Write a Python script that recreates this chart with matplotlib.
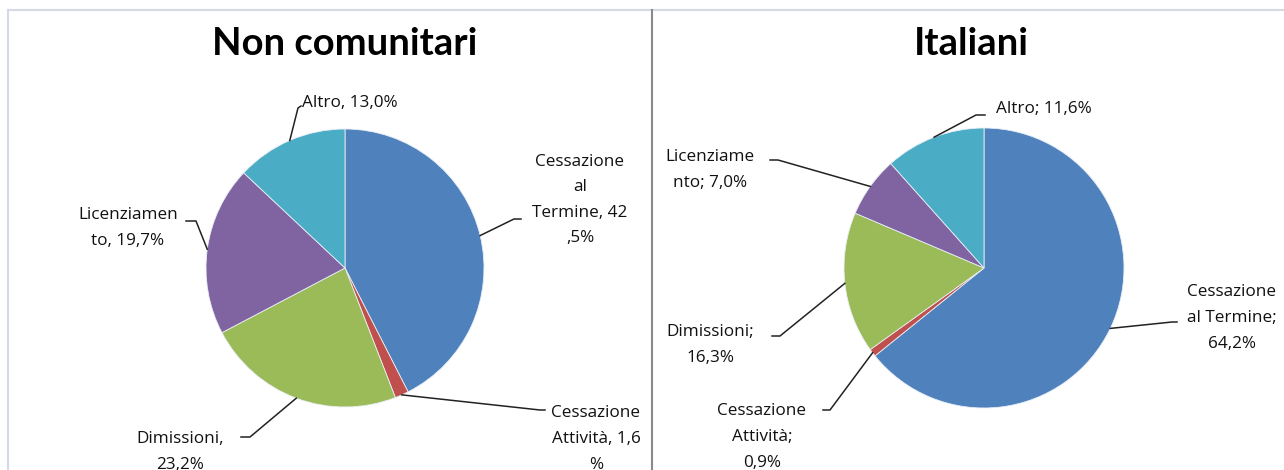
import numpy as np
import matplotlib.pyplot as plt
from matplotlib.lines import Line2D

plt.rcParams['font.family'] = ['Open Sans', 'DejaVu Sans']

W, H = 1284, 470

categories = ['Cessazione al Termine', 'Cessazione Attività', 'Dimissioni',
              'Licenziamento', 'Altro']
non_comunitari = [42.5, 1.6, 23.2, 19.7, 13.0]
italiani = [64.2, 0.9, 16.3, 7.0, 11.6]
colors = ['#4F81BD', '#C0504D', '#9BBB59', '#8064A2', '#4BACC6']

labels_nc = ['Cessazione\nal\nTermine, 42\n,5%', 'Cessazione\nAttività, 1,6\n%',
             'Dimissioni,\n23,2%', 'Licenziamen\nto, 19,7%', 'Altro, 13,0%']
labels_it = ['Cessazione\nal Termine;\n64,2%', 'Cessazione\nAttività;\n0,9%',
             'Dimissioni;\n16,3%', 'Licenziame\nnto; 7,0%', 'Altro; 11,6%']

fig = plt.figure(figsize=(W / 100, H / 100), dpi=100)
ax = fig.add_axes([0, 0, 1, 1])


def draw_pie(values, labels, cx, cy, r, title, tx, layout):
    ax.pie(values, colors=colors, startangle=90, counterclock=False,
           center=(cx, H - cy), radius=r, frame=True,
           wedgeprops=dict(linewidth=0.6, edgecolor='#E8EEF5'))
    ax.text(tx, H - 44, title, fontsize=27.5, fontweight='bold',
            ha='center', va='center', family=['Lato', 'DejaVu Sans'])
    cum = np.cumsum([0] + list(values)) / sum(values)
    for i, (lab, lay) in enumerate(zip(labels, layout)):
        mid = 90 - 360 * (cum[i] + cum[i + 1]) / 2
        a = np.deg2rad(mid)
        px, py = cx + r * np.cos(a), cy - r * np.sin(a)
        (bx, by), (ex, ey), (lx, ly) = lay
        ax.add_line(Line2D([px, bx, ex], [H - py, H - by, H - ey],
                           color='#222222', lw=1.1))
        ax.text(lx, H - ly, lab, fontsize=12.3, ha='center', va='center',
                linespacing=1.8, color='#111111')


# (elbow, end of leader, label centre) in pixels from top-left
layout_nc = [
    ((514, 219), (521, 219), (580, 200)),
    ((540, 410), (545, 410), (596, 439)),
    ((250, 437), (241, 437), (180, 452)),
    ((196, 221), (186, 221), (128, 228)),
    ((298, 108), (301, 106), (350, 103)),
]
layout_it = [
    ((1172, 322), (1177, 322), (1232, 318)),
    ((830, 410), (823, 410), (762, 437)),
    ((780, 336), (772, 336), (710, 345)),
    ((778, 160), (770, 160), (710, 170)),
    ((976, 115), (985, 115), (1044, 109)),
]

draw_pie(non_comunitari, labels_nc, 345, 268, 139, 'Non comunitari', 345, layout_nc)
draw_pie(italiani, labels_it, 984, 268, 140, 'Italiani', 971, layout_it)

# chart borders
ax.add_line(Line2D([8, W], [H - 10, H - 10], color='#D3DAE3', lw=1.5))
ax.add_line(Line2D([8, 8], [0, H - 10], color='#D3DAE3', lw=1.5))
ax.add_line(Line2D([652, 652], [0, H - 10], color='#8A8A8A', lw=1.5))

ax.set_xlim(0, W)
ax.set_ylim(0, H)
ax.set_aspect('auto')
ax.axis('off')

fig.savefig('out.png', dpi=100)
plt.close()
